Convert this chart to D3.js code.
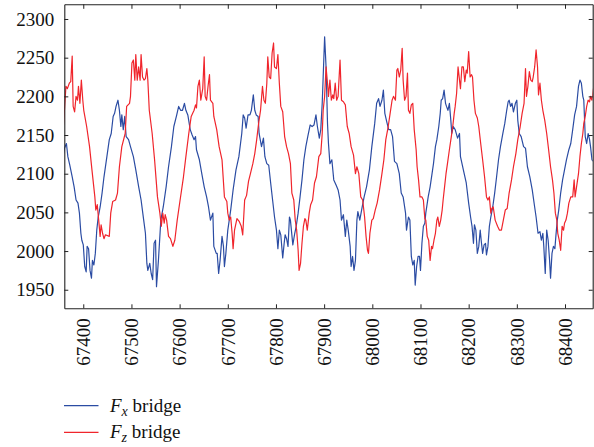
<!DOCTYPE html>
<html>
<head>
<meta charset="utf-8">
<script src="https://cdn.jsdelivr.net/npm/d3@7"></script>
<style>
  body { margin: 0; background: #fff; }
  svg text { font-family: "Liberation Serif", "Times New Roman", serif; fill: #111; }
  .axis path, .axis line { stroke: #222; }
</style>
</head>
<body>
<div id="chart-container"></div>
<script>
// Fx bridge series, [sample, value]
let fxData = [[67359,2126],[67361,2133],[67365,2139],[67368,2122],[67372,2111],[67377,2096],[67381,2083],[67385,2066],[67389,2062],[67392,2049],[67395,2023],[67397,2014],[67400,2008],[67403,1980],[67406,1973],[67408,2006],[67411,2003],[67414,1975],[67417,1965],[67419,1988],[67422,1982],[67425,1997],[67428,2027],[67431,2044],[67435,2057],[67439,2075],[67443,2096],[67449,2122],[67454,2144],[67458,2152],[67462,2174],[67465,2178],[67468,2187],[67472,2195],[67475,2182],[67478,2161],[67480,2176],[67483,2157],[67486,2174],[67489,2148],[67494,2144],[67498,2135],[67504,2122],[67509,2105],[67515,2083],[67520,2066],[67525,2042],[67529,2023],[67532,1984],[67534,1975],[67538,1984],[67541,1971],[67544,1963],[67547,2010],[67550,2014],[67552,1954],[67556,1988],[67561,2040],[67566,2057],[67572,2083],[67577,2109],[67583,2135],[67588,2161],[67594,2176],[67598,2187],[67602,2182],[67606,2182],[67610,2191],[67613,2182],[67617,2176],[67622,2157],[67626,2150],[67630,2144],[67633,2148],[67635,2131],[67641,2118],[67646,2100],[67651,2083],[67656,2070],[67660,2057],[67664,2040],[67669,2049],[67671,2006],[67676,1997],[67678,1997],[67681,1971],[67684,1988],[67688,2019],[67691,2006],[67693,1980],[67696,1997],[67700,2027],[67706,2053],[67711,2079],[67717,2105],[67723,2122],[67729,2152],[67732,2176],[67735,2172],[67738,2159],[67742,2176],[67746,2176],[67749,2182],[67753,2202],[67756,2182],[67759,2176],[67763,2174],[67765,2152],[67770,2135],[67774,2146],[67777,2122],[67781,2113],[67785,2111],[67789,2088],[67793,2066],[67797,2044],[67801,2027],[67804,2003],[67807,2027],[67810,2021],[67814,1991],[67817,2010],[67819,2021],[67822,2016],[67825,2006],[67828,2044],[67830,2040],[67835,2008],[67839,2023],[67842,2032],[67846,2049],[67850,2070],[67854,2092],[67858,2118],[67862,2135],[67866,2148],[67871,2163],[67875,2161],[67879,2163],[67883,2176],[67886,2161],[67890,2146],[67893,2157],[67896,2191],[67898,2225],[67901,2277],[67904,2238],[67907,2165],[67909,2139],[67912,2113],[67916,2118],[67920,2092],[67925,2085],[67929,2079],[67933,2066],[67936,2040],[67940,2047],[67944,2019],[67947,2040],[67950,2027],[67954,2006],[67956,1980],[67959,1993],[67962,1975],[67965,1988],[67968,2040],[67970,2051],[67974,2040],[67979,2057],[67983,2070],[67988,2083],[67994,2105],[67999,2135],[68005,2165],[68009,2191],[68013,2197],[68016,2187],[68020,2195],[68023,2208],[68026,2178],[68030,2167],[68034,2157],[68038,2157],[68042,2148],[68046,2116],[68051,2113],[68056,2100],[68060,2075],[68064,2070],[68069,2049],[68071,2027],[68075,2044],[68078,2040],[68081,1993],[68084,1982],[68087,1988],[68089,1956],[68092,1980],[68095,1993],[68098,1993],[68100,1975],[68103,2010],[68106,2032],[68109,2036],[68111,2049],[68116,2070],[68120,2083],[68124,2100],[68127,2113],[68131,2135],[68134,2144],[68138,2161],[68141,2178],[68143,2195],[68146,2197],[68149,2208],[68152,2191],[68154,2187],[68157,2182],[68160,2191],[68163,2169],[68165,2152],[68168,2161],[68172,2157],[68177,2146],[68181,2152],[68183,2122],[68189,2105],[68195,2088],[68200,2062],[68204,2044],[68207,2032],[68210,2010],[68212,2034],[68215,2027],[68218,1997],[68221,2006],[68224,2027],[68226,2014],[68229,1997],[68232,2008],[68235,2010],[68237,1995],[68240,2006],[68243,2032],[68246,2044],[68250,2057],[68254,2075],[68258,2096],[68262,2118],[68266,2135],[68271,2152],[68275,2165],[68279,2182],[68282,2193],[68284,2195],[68287,2187],[68290,2191],[68293,2180],[68297,2191],[68300,2195],[68302,2169],[68305,2152],[68309,2148],[68314,2135],[68318,2133],[68322,2109],[68327,2096],[68332,2079],[68337,2057],[68340,2044],[68344,2023],[68348,2025],[68351,2014],[68354,2023],[68356,2006],[68359,1971],[68362,2027],[68365,2014],[68368,1988],[68370,1965],[68373,1997],[68376,2006],[68379,2003],[68381,2019],[68384,2040],[68387,2053],[68391,2075],[68395,2092],[68399,2105],[68403,2118],[68408,2131],[68412,2139],[68416,2157],[68420,2176],[68424,2187],[68428,2213],[68431,2221],[68434,2217],[68437,2200],[68439,2195],[68442,2148],[68445,2139],[68448,2152],[68451,2144],[68453,2135],[68456,2118],[68459,2116]];

// Fz bridge series, [sample, value]
let fzData = [[67359,2163],[67364,2213],[67367,2210],[67371,2217],[67374,2219],[67377,2252],[67379,2187],[67382,2180],[67385,2200],[67388,2195],[67390,2213],[67393,2191],[67396,2221],[67399,2195],[67401,2182],[67407,2161],[67413,2135],[67418,2105],[67424,2070],[67426,2053],[67429,2060],[67432,2040],[67435,2019],[67437,2034],[67440,2023],[67443,2016],[67446,2021],[67454,2019],[67457,2049],[67461,2064],[67467,2066],[67471,2075],[67475,2109],[67480,2135],[67487,2152],[67490,2187],[67496,2191],[67498,2200],[67501,2243],[67504,2247],[67507,2221],[67509,2254],[67512,2221],[67515,2238],[67518,2221],[67520,2254],[67523,2225],[67526,2221],[67529,2223],[67532,2236],[67534,2221],[67537,2182],[67543,2152],[67548,2118],[67554,2070],[67559,2049],[67562,2032],[67565,2049],[67568,2036],[67570,2047],[67573,2040],[67577,2019],[67581,2016],[67586,2006],[67590,2014],[67595,2040],[67601,2066],[67608,2096],[67613,2122],[67619,2152],[67624,2174],[67630,2182],[67633,2189],[67635,2185],[67638,2213],[67641,2221],[67644,2195],[67648,2210],[67651,2251],[67653,2200],[67656,2195],[67659,2213],[67662,2228],[67664,2195],[67669,2191],[67671,2174],[67677,2157],[67682,2135],[67688,2118],[67693,2070],[67698,2064],[67700,2049],[67703,2040],[67706,2044],[67709,2023],[67711,2003],[67714,2027],[67719,2042],[67724,2038],[67728,2032],[67731,2021],[67735,2066],[67739,2072],[67743,2090],[67747,2100],[67752,2113],[67756,2126],[67760,2144],[67764,2165],[67768,2182],[67772,2213],[67775,2195],[67778,2191],[67781,2217],[67783,2251],[67786,2225],[67789,2223],[67792,2256],[67795,2269],[67797,2238],[67801,2236],[67804,2254],[67807,2217],[67810,2187],[67814,2180],[67818,2148],[67822,2135],[67826,2126],[67830,2113],[67833,2075],[67837,2066],[67840,2040],[67843,2027],[67846,2001],[67848,1975],[67851,1984],[67854,2010],[67857,2032],[67860,2042],[67862,2040],[67865,2027],[67869,2049],[67872,2060],[67876,2066],[67880,2088],[67884,2096],[67889,2122],[67893,2126],[67896,2152],[67898,2182],[67901,2200],[67904,2238],[67907,2217],[67909,2200],[67912,2221],[67915,2195],[67918,2202],[67920,2197],[67923,2217],[67926,2195],[67929,2200],[67933,2247],[67936,2195],[67940,2193],[67944,2189],[67948,2161],[67952,2152],[67956,2135],[67961,2124],[67965,2100],[67968,2109],[67972,2100],[67976,2070],[67980,2066],[67984,2044],[67987,2019],[67990,2001],[67992,1997],[67995,2023],[67999,2040],[68002,2042],[68006,2053],[68010,2062],[68015,2079],[68020,2100],[68024,2118],[68028,2144],[68033,2161],[68037,2178],[68041,2195],[68044,2200],[68048,2195],[68051,2234],[68053,2236],[68056,2225],[68059,2234],[68062,2262],[68064,2221],[68067,2195],[68070,2200],[68073,2230],[68075,2182],[68078,2178],[68081,2189],[68084,2191],[68087,2157],[68091,2131],[68093,2109],[68096,2092],[68099,2070],[68103,2070],[68106,2066],[68109,2042],[68111,2040],[68114,2019],[68117,2014],[68120,1988],[68123,2006],[68125,2003],[68128,2014],[68131,2023],[68134,2040],[68136,2044],[68139,2032],[68142,2040],[68145,2053],[68147,2066],[68150,2083],[68153,2100],[68156,2113],[68160,2131],[68164,2148],[68167,2161],[68170,2178],[68172,2187],[68175,2204],[68178,2238],[68181,2221],[68183,2210],[68186,2238],[68189,2238],[68192,2219],[68195,2234],[68197,2230],[68200,2258],[68203,2225],[68206,2228],[68208,2225],[68211,2195],[68214,2178],[68218,2172],[68221,2161],[68225,2139],[68229,2118],[68233,2096],[68237,2070],[68240,2066],[68243,2070],[68246,2049],[68248,2055],[68251,2057],[68255,2040],[68260,2032],[68264,2027],[68268,2027],[68272,2040],[68276,2053],[68280,2055],[68284,2075],[68289,2092],[68293,2109],[68298,2126],[68302,2144],[68307,2161],[68311,2178],[68315,2191],[68318,2236],[68320,2200],[68323,2213],[68326,2232],[68329,2221],[68332,2219],[68334,2225],[68337,2238],[68340,2260],[68343,2238],[68345,2202],[68348,2217],[68351,2195],[68354,2182],[68358,2169],[68362,2152],[68366,2131],[68370,2109],[68374,2092],[68377,2075],[68380,2049],[68383,2040],[68385,2023],[68388,2014],[68391,2001],[68394,2032],[68397,2027],[68399,2036],[68402,2040],[68405,2049],[68408,2062],[68412,2070],[68416,2070],[68419,2092],[68421,2070],[68424,2083],[68428,2100],[68431,2122],[68434,2139],[68437,2152],[68439,2165],[68442,2174],[68445,2187],[68448,2195],[68451,2193],[68453,2200],[68456,2195],[68459,2210]];

let xDomain = [67360.6, 68457.5];
let yDomain = [1926, 2319];
let xTicks = [67400, 67500, 67600, 67700, 67800, 67900, 68000, 68100, 68200, 68300, 68400];
let yTicks = [1950, 2000, 2050, 2100, 2150, 2200, 2250, 2300];

let seriesNames = [
	{ main: "F", sub: "x", rest: " bridge", color: "#2b4ca3", data: fxData },
	{ main: "F", sub: "z", rest: " bridge", color: "#f0252c", data: fzData }
];

let width = 594, height = 447;
let margin = { left: 64.3, top: 4.3, right: 1.3, bottom: 138.7 };
let plotW = width - margin.left - margin.right;
let plotH = height - margin.top - margin.bottom;

let svg = d3.select("#chart-container").append("svg")
	.attr("width", width)
	.attr("height", height);

let xScale = d3.scaleLinear().domain(xDomain).range([0, plotW]);
let yScale = d3.scaleLinear().domain(yDomain).range([plotH, 0]);

let plot = svg.append("g")
	.attr("transform", "translate(" + margin.left + "," + margin.top + ")");

plot.append("clipPath")
	.attr("id", "plot-clip")
	.append("rect")
	.attr("width", plotW)
	.attr("height", plotH);

// lines
let line = d3.line()
	.x(d => xScale(d[0]))
	.y(d => yScale(d[1]));

plot.append("g")
	.attr("clip-path", "url(#plot-clip)")
	.selectAll("path")
	.data(seriesNames)
	.join("path")
	.attr("d", d => line(d.data))
	.attr("fill", "none")
	.attr("stroke", d => d.color)
	.attr("stroke-width", 1.2)
	.attr("stroke-linejoin", "round");

// axes, ticks all pointing inward
let leftAxis = d3.axisLeft(yScale).tickValues(yTicks).tickSize(-4).tickSizeOuter(0).tickPadding(10).tickFormat(d3.format("d"));
let gLeft = plot.append("g").attr("class", "axis").call(leftAxis);
gLeft.selectAll("text").style("font-size", "19px").attr("fill", "#111");

let rightAxis = d3.axisRight(yScale).tickValues(yTicks).tickSize(-4).tickSizeOuter(0).tickFormat("");
plot.append("g").attr("class", "axis")
	.attr("transform", "translate(" + plotW + ",0)")
	.call(rightAxis);

let topAxis = d3.axisTop(xScale).tickValues(xTicks).tickSize(-4.5).tickSizeOuter(0).tickFormat("");
plot.append("g").attr("class", "axis").call(topAxis);

let bottomAxis = d3.axisBottom(xScale).tickValues(xTicks).tickSize(-4).tickSizeOuter(0).tickFormat(d3.format("d"));
let gBottom = plot.append("g").attr("class", "axis")
	.attr("transform", "translate(0," + plotH + ")")
	.call(bottomAxis);

gBottom.selectAll("text")
	.style("font-size", "19px")
	.attr("fill", "#111")
	.attr("text-anchor", "end")
	.attr("transform", "rotate(-90)")
	.attr("x", -10)
	.attr("y", 0)
	.attr("dy", "0.33em");

plot.selectAll(".axis path").attr("stroke-width", 1.1);

// legend
let legend = svg.append("g").attr("transform", "translate(64,405.7)");
let items = legend.selectAll("g")
	.data(seriesNames)
	.join("g")
	.attr("transform", (d, i) => "translate(0," + (i * 26.6) + ")");

items.append("line")
	.attr("x1", 0).attr("x2", 34.5)
	.attr("y1", 0).attr("y2", 0)
	.attr("stroke", d => d.color)
	.attr("stroke-width", 1.2);

let label = items.append("text")
	.attr("x", 46)
	.attr("y", 6)
	.style("font-size", "19px");
label.append("tspan").style("font-style", "italic").text(d => d.main);
label.append("tspan").style("font-style", "italic").style("font-size", "14px")
	.attr("dy", 4).text(d => d.sub);
label.append("tspan").attr("dy", -4).text(d => d.rest);
</script>
</body>
</html>
